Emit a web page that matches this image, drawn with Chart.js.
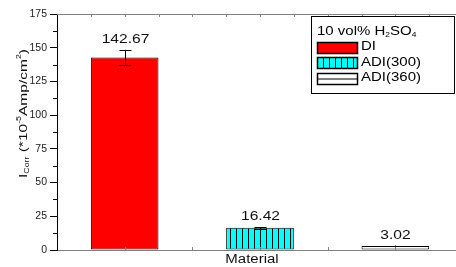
<!DOCTYPE html>
<html>
<head>
<meta charset="utf-8">
<script src="https://cdn.jsdelivr.net/npm/chart.js@4/dist/chart.umd.min.js"></script>
<style>
  html, body { margin: 0; padding: 0; background: #fff; overflow: hidden; }
  #wrap { position: absolute; left: 0; top: 0; width: 463px; height: 267px; }
</style>
</head>
<body>
<div id="wrap"><canvas id="chart" width="463" height="267"></canvas></div>
<script>
// ===== DATA =====
const materials = ["DI", "ADI(300)", "ADI(360)"];
const icorr = [142.67, 16.42, 3.02];
const icorrErr = [5.8, 0.6, 0.3];
const valueLabels = ["142.67", "16.42", "3.02"];
const yTicks = [0, 25, 50, 75, 100, 125, 150, 175];

const FONT = "Arial, 'Liberation Sans', sans-serif";

// ===== PATTERNS =====
function makePattern(w, h, draw) {
  const c = document.createElement("canvas");
  c.width = w; c.height = h;
  draw(c.getContext("2d"));
  return document.getElementById("chart").getContext("2d").createPattern(c, "repeat");
}
const cyanStripes = makePattern(6, 6, (g) => {
  g.fillStyle = "#00ffff"; g.fillRect(0, 0, 6, 6);
  g.fillStyle = "#000"; g.fillRect(2, 0, 1, 6);
});
const fills = ["#ff0000", cyanStripes, "#ffffff"];

// stretched text helper (the reference font is a bit wide)
function txt(ctx, s, x, y, size, align, sx) {
  ctx.save();
  ctx.font = size + "px " + FONT;
  ctx.textAlign = align || "left";
  ctx.textBaseline = "middle";
  ctx.translate(x, y);
  ctx.scale(sx || 1.2, 1);
  ctx.fillText(s, 0, 0);
  ctx.restore();
}
function runs(ctx, parts, x, y, sx) {
  // parts: [text, size, dy]
  let cx = x;
  parts.forEach(([s, size, dy]) => {
    ctx.font = size + "px " + FONT;
    txt(ctx, s, cx, y + dy, size, "left", sx);
    cx += ctx.measureText(s).width * sx;
  });
  return cx;
}

// ===== EXTRAS PLUGIN =====
const extras = {
  id: "extras",
  afterDatasetsDraw(chart) {
    const ctx = chart.ctx;
    const x = chart.scales.x, y = chart.scales.y;
    const area = chart.chartArea;
    ctx.save();
    ctx.fillStyle = "#000";
    ctx.strokeStyle = "#000";
    ctx.lineWidth = 1;

    // error bars + value labels
    icorr.forEach((v, i) => {
      const px = Math.round(x.getPixelForValue(i)) + 0.5;
      const top = y.getPixelForValue(v + icorrErr[i]);
      const bot = y.getPixelForValue(v - icorrErr[i]);
      ctx.beginPath();
      ctx.moveTo(px, top); ctx.lineTo(px, bot);
      ctx.moveTo(px - 6, Math.round(top) + 0.5); ctx.lineTo(px + 6, Math.round(top) + 0.5);
      ctx.moveTo(px - 6, Math.round(bot) + 0.5); ctx.lineTo(px + 6, Math.round(bot) + 0.5);
      ctx.stroke();
      ctx.fillStyle = "#111";
      txt(ctx, valueLabels[i], px, top - 10, 12, "center", 1.3);
    });

    // top axis line with small ticks
    ctx.strokeStyle = "#808080";
    ctx.beginPath();
    ctx.moveTo(area.left, area.top + 0.5); ctx.lineTo(area.right, area.top + 0.5);
    for (let k = -0.25; k <= 2.5; k += 0.25) {
      const px = Math.round(x.getPixelForValue(k)) + 0.5;
      if (px <= area.left + 1) continue;
      ctx.moveTo(px, area.top); ctx.lineTo(px, area.top + 3);
    }
    // bottom axis small ticks
    for (let k = 0; k <= 2.5; k += 0.5) {
      const px = Math.round(x.getPixelForValue(k)) + 0.5;
      ctx.moveTo(px, area.bottom); ctx.lineTo(px, area.bottom - 3);
    }
    ctx.stroke();

    // minor y ticks
    ctx.strokeStyle = "#000";
    ctx.beginPath();
    for (let v = 12.5; v < 175; v += 25) {
      const py = Math.round(y.getPixelForValue(v)) + 0.5;
      ctx.moveTo(area.left - 4, py); ctx.lineTo(area.left, py);
    }
    ctx.stroke();

    // x title
    ctx.fillStyle = "#111";
    txt(ctx, "Material", 252, 260, 12.5, "center", 1.2);

    // y title (rotated)
    ctx.save();
    ctx.translate(24, 178);
    ctx.rotate(-Math.PI / 2);
    runs(ctx, [["I", 11.5, 0], ["Corr", 6.5, 3.5], [" (*10", 11.5, 0], ["-5", 6.5, -5],
               ["Amp/cm", 11.5, 0], ["2", 6.5, -5], [")", 11.5, 0]], 0, 0, 1.35);
    ctx.restore();

    // legend
    ctx.fillStyle = "#fff";
    ctx.fillRect(311, 16, 143, 77);
    ctx.strokeStyle = "#000";
    ctx.strokeRect(311.5, 16.5, 143, 77);
    ctx.fillStyle = "#000";
    runs(ctx, [["10 vol% H", 12.5, 0], ["2", 7, 3], ["SO", 12.5, 0], ["4", 7, 3]], 317, 32, 1.2);
    const rowY = [47, 62.5, 78];
    materials.forEach((m, i) => {
      const sy = Math.round(rowY[i] - 5.5) + 0.5;
      if (i === 0) {
        ctx.fillStyle = "#ff0000";
        ctx.fillRect(317.5, sy, 40, 11);
      } else if (i === 1) {
        ctx.fillStyle = "#00ffff";
        ctx.fillRect(317.5, sy, 40, 11);
        ctx.beginPath();
        for (let lx = 323.5; lx < 357; lx += 6) { ctx.moveTo(lx, sy); ctx.lineTo(lx, sy + 11); }
        ctx.stroke();
      } else {
        ctx.fillStyle = "#fff";
        ctx.fillRect(317.5, sy, 40, 11);
        ctx.beginPath();
        ctx.moveTo(317.5, sy + 5.5); ctx.lineTo(357.5, sy + 5.5);
        ctx.stroke();
      }
      ctx.lineWidth = 1.5;
      ctx.strokeRect(317.5, sy, 40, 11);
      ctx.lineWidth = 1;
      ctx.fillStyle = "#000";
      txt(ctx, m, 361, rowY[i], 12.5, "left", 1.2);
    });
    ctx.restore();
  }
};

// ===== CHART =====
new Chart(document.getElementById("chart"), {
  type: "bar",
  data: {
    labels: materials,
    datasets: [{
      data: icorr,
      backgroundColor: fills,
      borderColor: "#000",
      borderWidth: 1,
      borderSkipped: false,
      barPercentage: 0.5,
      categoryPercentage: 1
    }]
  },
  options: {
    responsive: false,
    animation: false,
    layout: { padding: { top: 14, left: 0, right: 0, bottom: 0 } },
    plugins: { legend: { display: false }, tooltip: { enabled: false } },
    scales: {
      x: {
        ticks: { display: false },
        grid: { display: false },
        border: { color: "#808080" },
        afterFit: (s) => { s.height = 17; }
      },
      y: {
        min: 0, max: 175,
        afterBuildTicks: (s) => { s.ticks = yTicks.map((v) => ({ value: v })); },
        ticks: { color: "#222", padding: 3, font: { family: FONT, size: 10.5 } },
        grid: { drawOnChartArea: false, tickLength: 7, color: "#000" },
        border: { color: "#000" },
        afterFit: (s) => { s.width = 57; }
      }
    }
  },
  plugins: [extras]
});
</script>
</body>
</html>
